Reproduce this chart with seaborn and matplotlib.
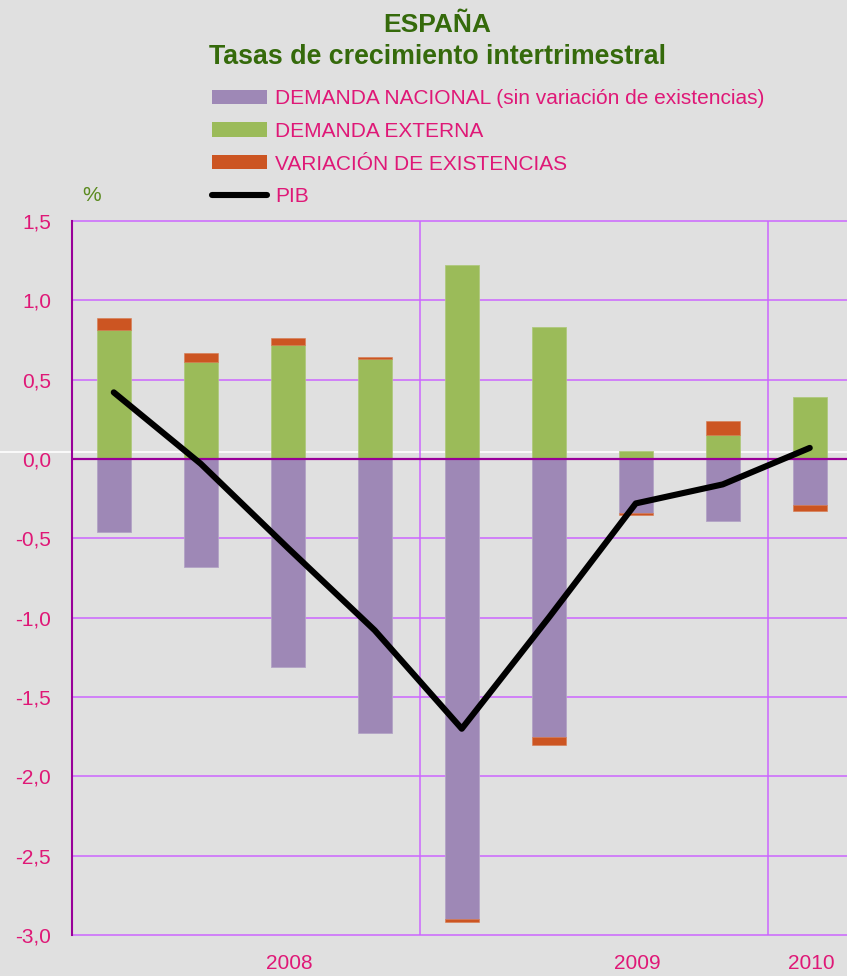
import matplotlib
matplotlib.use("Agg")
import matplotlib.pyplot as plt
import numpy as np
import seaborn as sns
from matplotlib.lines import Line2D
from matplotlib.patches import Patch

# Quarters: 2008 I-IV, 2009 I-IV, 2010 I
trimestres = ["2008-I", "2008-II", "2008-III", "2008-IV",
              "2009-I", "2009-II", "2009-III", "2009-IV", "2010-I"]
demanda_nacional = [-0.46, -0.68, -1.31, -1.73, -2.90, -1.75, -0.34, -0.39, -0.29]
demanda_externa = [0.81, 0.61, 0.72, 0.63, 1.22, 0.83, 0.05, 0.15, 0.39]
existencias = [0.08, 0.06, 0.04, 0.01, -0.02, -0.05, -0.013, 0.09, -0.04]
pib = [0.42, -0.03, -0.56, -1.08, -1.70, -1.00, -0.28, -0.16, 0.07]

anios = ["2008", "2009", "2010"]
trimestres_por_anio = [4, 4, 1]
anio_label_pos = [2, 6, 8]  # quarter where each year label sits
yticks = [1.5, 1.0, 0.5, 0.0, -0.5, -1.0, -1.5, -2.0, -2.5, -3.0]

labels = [
    "DEMANDA NACIONAL (sin variación de existencias)",
    "DEMANDA EXTERNA",
    "VARIACIÓN DE EXISTENCIAS",
    "PIB",
]

sns.set_style("white")
plt.rcParams["font.family"] = ["Liberation Sans", "DejaVu Sans"]

BG = "#E0E0E0"
PINK = "#DF1877"
TITLE_GREEN = "#356A0B"
GRID = "#CC66FF"
DARK = "#990099"
PURPLE = "#9E88B6"
GREEN = "#9BBB59"
ORANGE = "#CC5522"

W, H = 847, 976
fig = plt.figure(figsize=(W / 100, H / 100), dpi=100, facecolor=BG)
ax = fig.add_axes([72 / W, 41 / H, 775 / W, 714 / H])
ax.patch.set_visible(False)

x = np.arange(len(trimestres))
dn = np.array(demanda_nacional)
de = np.array(demanda_externa)
ve = np.array(existencias)
bottom_ve = np.where(ve > 0, np.maximum(de, 0), np.minimum(dn, 0))

bw = 0.39
ax.bar(x - 0.02, dn, width=bw, color=PURPLE, edgecolor="#B3A3C6", linewidth=0.6, zorder=2)
ax.bar(x - 0.02, de, width=bw, color=GREEN, edgecolor="#AFC97E", linewidth=0.6, zorder=2)
ax.bar(x - 0.02, ve, bottom=bottom_ve, width=bw, color=ORANGE, edgecolor="#D77A50",
       linewidth=0.4, zorder=2)

sns.lineplot(x=x - 0.02, y=pib, ax=ax, color="black", lw=4.4, zorder=5,
             solid_capstyle="round", legend=False)

# grid
for v in yticks:
    if v == 0:
        ax.axhline(v, color=DARK, lw=1.6, zorder=3)
    else:
        ax.axhline(v, color=GRID, lw=1.1, zorder=1, clip_on=False)
for b in np.cumsum(trimestres_por_anio)[:-1] - 0.5:
    ax.axvline(b, color=GRID, lw=1.1, zorder=1)

ax.set_xlim(-0.5, -0.5 + 775 / 87)
ax.set_ylim(-3.0, 1.5)

for s in ["top", "right", "bottom"]:
    ax.spines[s].set_visible(False)
ax.spines["left"].set_color(DARK)
ax.spines["left"].set_linewidth(1.5)
ax.spines["left"].set_zorder(4)

ax.set_yticks(yticks)
ax.set_yticklabels([f"{v:.1f}".replace(".", ",") for v in yticks])
ax.tick_params(axis="y", direction="in", length=4, width=1.5, color=DARK,
               labelcolor=PINK, labelsize=15, pad=15)
ax.set_xticks(anio_label_pos)
ax.set_xticklabels(anios)
ax.tick_params(axis="x", length=0, labelcolor=PINK, labelsize=15, pad=14)

# white band line behind the plot, just above zero
fig.add_artist(Line2D([0, 1], [1 - 452 / H, 1 - 452 / H], transform=fig.transFigure,
                      color="white", lw=1.2, zorder=-1))

fig.text(437 / W, 1 - 32 / H, "ESPAÑA", ha="center", va="baseline",
         fontsize=19, weight="bold", color=TITLE_GREEN)
fig.text(437 / W, 1 - 64 / H, "Tasas de crecimiento intertrimestral", ha="center",
         va="baseline", fontsize=19.3, weight="bold", color=TITLE_GREEN)
fig.text(92 / W, 1 - 195 / H, "%", ha="center", va="center", fontsize=15,
         color="#5A8A1E")

handles = [
    Patch(facecolor=PURPLE, edgecolor="none"),
    Patch(facecolor=GREEN, edgecolor="none"),
    Patch(facecolor=ORANGE, edgecolor="none"),
    Line2D([0], [0], color="black", lw=4.4, solid_capstyle="round"),
]
ax.legend(handles, labels, loc="upper left", bbox_to_anchor=(212 / W, 1 - 89 / H),
          bbox_transform=fig.transFigure, frameon=False, fontsize=15,
          labelcolor=PINK, handlelength=2.64, handleheight=0.67,
          handletextpad=0.38, labelspacing=0.66, borderpad=0, borderaxespad=0)

fig.savefig("out.png", dpi=100, facecolor=BG)
